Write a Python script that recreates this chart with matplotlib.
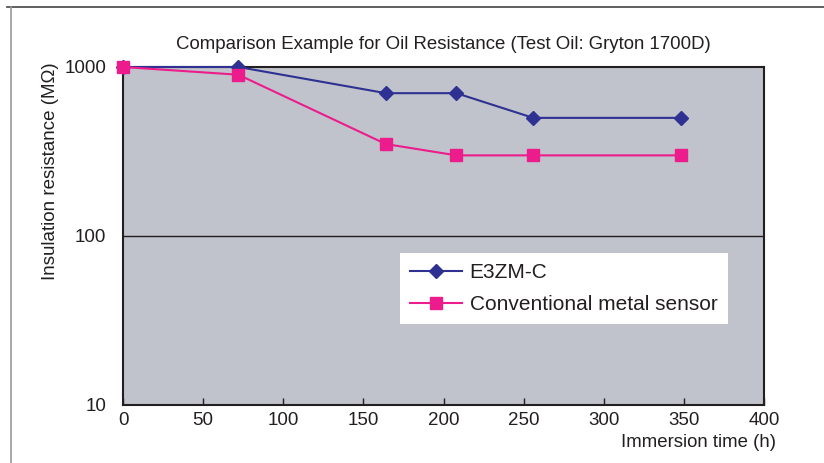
import matplotlib
matplotlib.use("Agg")
import matplotlib.pyplot as plt
from matplotlib.lines import Line2D

plt.rcParams['font.family'] = ['Liberation Sans', 'DejaVu Sans']

# data
hours = [0, 72, 164, 208, 256, 348]
e3zm_c = [1000, 1000, 700, 700, 500, 500]
conventional = [1000, 900, 350, 300, 300, 300]
x_ticks = [0, 50, 100, 150, 200, 250, 300, 350, 400]
y_ticks = [10, 100, 1000]

blue = '#2e3192'
pink = '#ec1c8c'
ink = '#231f20'

fig = plt.figure(figsize=(8.24, 4.63), dpi=100)
ax = fig.add_axes([0.1493, 0.1253, 0.7779, 0.7300])
ax.set_facecolor('#c0c3cb')

ax.plot(hours, e3zm_c, color=blue, lw=1.5, marker='D', ms=7,
        label='E3ZM-C', clip_on=False, zorder=4)
ax.plot(hours, conventional, color=pink, lw=1.5, marker='s', ms=8,
        label='Conventional metal sensor', clip_on=False, zorder=5)

ax.set_yscale('log')
ax.set_ylim(10, 1000)
ax.set_xlim(0, 400)
ax.set_xticks(x_ticks)
ax.set_xticklabels([str(v) for v in x_ticks])
ax.set_yticks(y_ticks)
ax.set_yticklabels([str(v) for v in y_ticks])
ax.yaxis.set_minor_locator(matplotlib.ticker.NullLocator())
ax.axhline(100, color=ink, lw=1.0, zorder=2)

for s in ax.spines.values():
    s.set_color(ink)
    s.set_linewidth(1.5)

ax.tick_params(axis='x', direction='in', length=5, width=1, color=ink,
               labelsize=13.5, pad=5, labelcolor=ink)
ax.tick_params(axis='y', direction='in', length=0, labelsize=13.5, pad=12,
               labelcolor=ink)

ax.set_title('Comparison Example for Oil Resistance (Test Oil: Gryton 1700D)',
             fontsize=13.4, color=ink, pad=13)
ax.set_ylabel('Insulation resistance (M\u03a9)', fontsize=13.5, color=ink)
ax.yaxis.set_label_coords(-0.1, 0.692)
ax.set_xlabel('Immersion time (h)', fontsize=13.4, color=ink)
ax.xaxis.set_label_coords(1.018, -0.085)
ax.xaxis.label.set_horizontalalignment('right')

leg = ax.legend(loc='upper left', bbox_to_anchor=(0.432, 0.45), fontsize=15,
                frameon=True, fancybox=False, framealpha=1, edgecolor='white',
                handlelength=2.5, handletextpad=0.35, borderpad=0.5,
                labelspacing=0.6, borderaxespad=0)
leg.get_frame().set_linewidth(0)
for t in leg.get_texts():
    t.set_color(ink)

# outer frame lines of the original figure
fig.add_artist(Line2D([7 / 824, 1], [1 - 7 / 463, 1 - 7 / 463],
                      color='#444444', lw=1.2, transform=fig.transFigure))
fig.add_artist(Line2D([11 / 824, 11 / 824], [0, 1 - 7 / 463],
                      color='#999999', lw=1.2, transform=fig.transFigure))

fig.savefig('out.png', dpi=100)
